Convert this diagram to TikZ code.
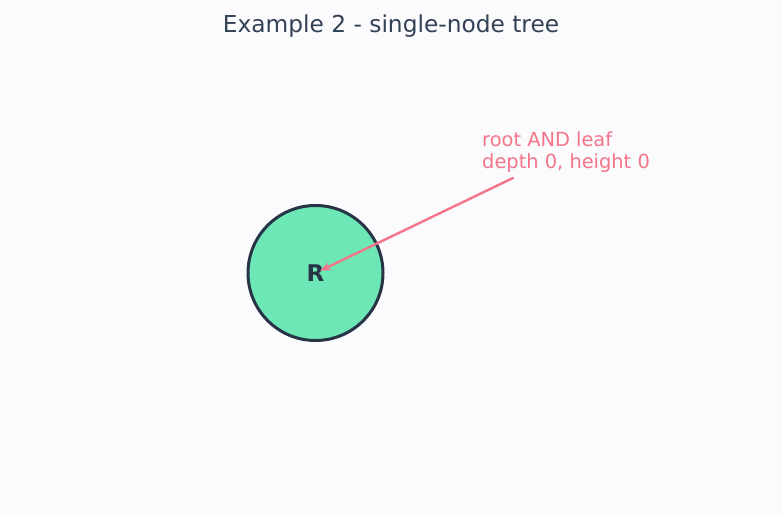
\documentclass[tikz,border=0pt]{standalone}
\usepackage{fontspec}
\setmainfont{DejaVu Sans}
\usetikzlibrary{arrows.meta}
\definecolor{bgpage}{HTML}{FBFBFE}
\definecolor{titlecol}{HTML}{334155}
\definecolor{leafcol}{HTML}{6EE7B7}
\definecolor{edgecol}{HTML}{263445}
\definecolor{notecol}{HTML}{F47589}
\begin{document}
\begin{tikzpicture}[x=1pt,y=-1pt,line join=round,line cap=round,>={Stealth[length=11pt,width=8pt]}]
	\fill[bgpage] (0,0) rectangle (782,514);
	\useasboundingbox (0,0) rectangle (782,514);
	\node[titlecol,font=\fontsize{23.3}{27}\selectfont,anchor=base] (title) at (391,32.3) {Example 2 - single-node tree};
	\node[circle,draw=edgecol,fill=leafcol,line width=3pt,minimum size=135pt,inner sep=0pt,
		text=edgecol,font=\fontsize{23}{26}\selectfont\bfseries] (R) at (315.5,273) {R};
	\node[notecol,font=\fontsize{19.4}{22}\selectfont,align=left,anchor=north west,inner sep=0pt] (note) at (482,132) {root AND leaf\\depth 0, height 0};
	\coordinate (tail) at (513,178);
	\draw[->,notecol,line width=2.4pt,shorten >=5pt] (tail) -- (R.center);
\end{tikzpicture}
\end{document}
